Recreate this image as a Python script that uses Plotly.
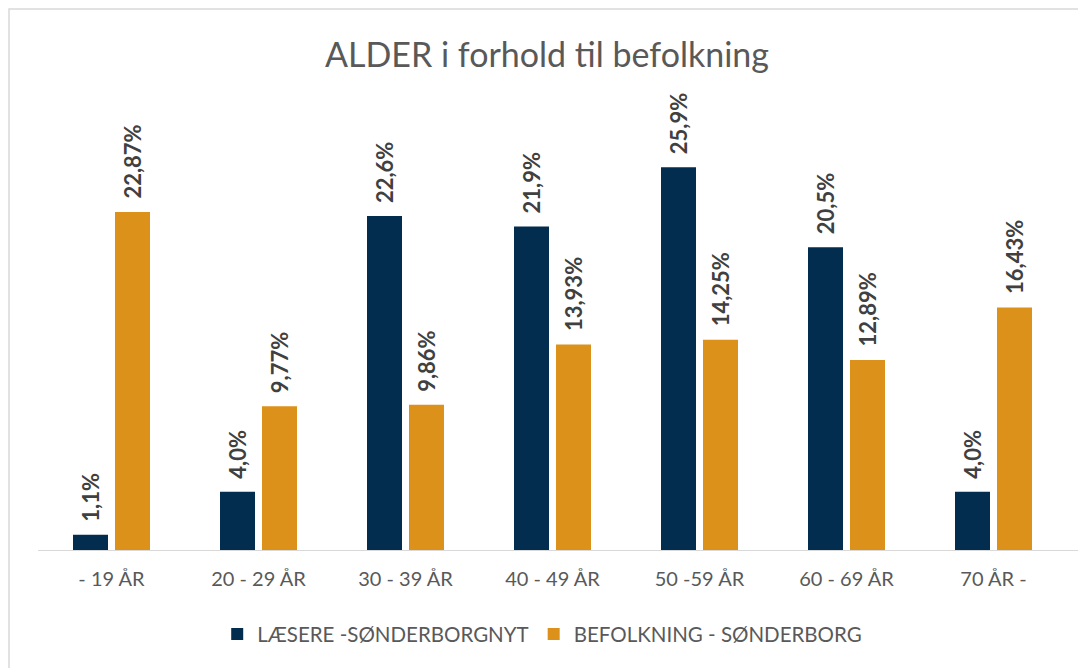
import plotly.graph_objects as go

categories = ["- 19 ÅR", "20 - 29 ÅR", "30 - 39 ÅR", "40 - 49 ÅR", "50 -59 ÅR", "60 - 69 ÅR", "70 ÅR -"]
laesere = [1.1, 4.0, 22.6, 21.9, 25.9, 20.5, 4.0]
befolkning = [22.87, 9.77, 9.86, 13.93, 14.25, 12.89, 16.43]
laesere_labels = ["1,1%", "4,0%", "22,6%", "21,9%", "25,9%", "20,5%", "4,0%"]
befolkning_labels = ["22,87%", "9,77%", "9,86%", "13,93%", "14,25%", "12,89%", "16,43%"]

NAVY = "#022d4f"
ORANGE = "#dc911b"
FONT = "Lato, 'Open Sans', sans-serif"

# page has an 8px body margin, so the figure is laid out in its own coords
W, H = 1078, 660
L, R, T, B = 30, 19, 92, 117

fig = go.Figure()
fig.add_trace(go.Bar(
    x=categories, y=laesere, name="LÆSERE -SØNDERBORGNYT",
    marker=dict(color=NAVY, line=dict(width=0)),
))
fig.add_trace(go.Bar(
    x=categories, y=befolkning, name="BEFOLKNING - SØNDERBORG",
    marker=dict(color=ORANGE, line=dict(width=0)),
))

# rotated data labels above each bar
for vals, labs, shift in ((laesere, laesere_labels, -21), (befolkning, befolkning_labels, 21)):
    for c, v, t in zip(categories, vals, labs):
        fig.add_annotation(x=c, y=v, text=t, showarrow=False, textangle=-90,
                           xanchor="center", yanchor="bottom", xshift=shift, yshift=11,
                           font=dict(family=FONT, size=22, color="#404040", weight="bold"))

plot_h = H - T - B
ymax = plot_h / 14.82
pw = W - L - R

# chart border (light gray frame as in the source image)
fig.add_shape(type="rect", xref="paper", yref="paper",
              x0=(1 - L) / pw, x1=1.2, y0=-0.6, y1=(H - B - 1) / plot_h,
              line=dict(color="#d9d9d9", width=1.5), fillcolor="rgba(0,0,0,0)", layer="below")
# baseline extending to the right edge
fig.add_shape(type="line", xref="paper", yref="y",
              x0=0, x1=(W - L) / pw, y0=0, y1=0,
              line=dict(color="#d9d9d9", width=2))

fig.update_layout(
    width=W, height=H,
    margin=dict(l=L, r=R, t=T, b=B, autoexpand=False),
    paper_bgcolor="white", plot_bgcolor="white",
    title=dict(text="ALDER i forhold til befolkning", x=0.5, xanchor="center",
               y=1 - 47 / H, yanchor="middle",
               font=dict(family=FONT, size=34, color="#595959")),
    barmode="group", bargap=0.4286, bargroupgap=0.1667,
    xaxis=dict(showgrid=False, showline=False, ticks="", zeroline=False,
               tickfont=dict(family=FONT, size=20, color="#595959"),
               ticklabelstandoff=14),
    yaxis=dict(range=[0, ymax], visible=False, showgrid=False, zeroline=False),
    legend=dict(orientation="h", x=0.49, xanchor="center", y=-0.14, yanchor="top",
                font=dict(family=FONT, size=20.5, color="#595959"),
                itemwidth=30, traceorder="normal"),
    showlegend=True,
)

fig.write_html("out.html")
